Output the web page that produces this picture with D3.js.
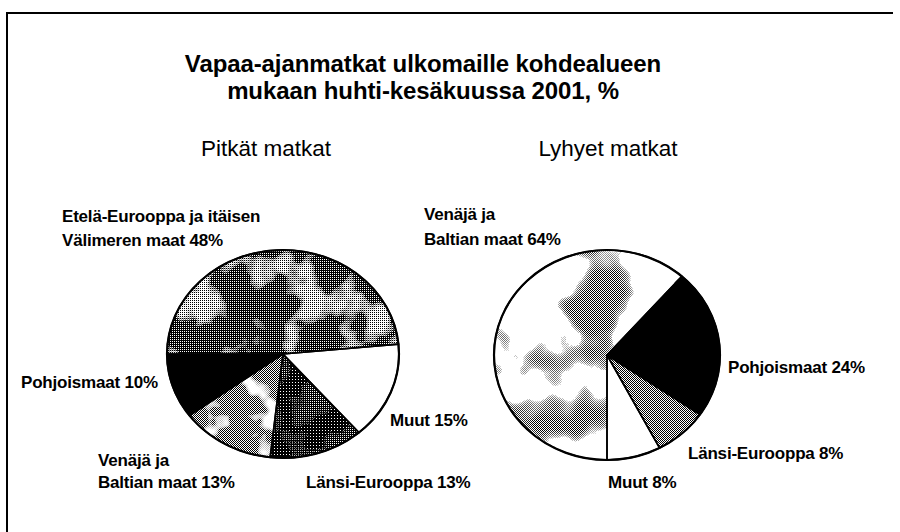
<!DOCTYPE html>
<html>
<head>
<meta charset="utf-8">
<script src="https://cdn.jsdelivr.net/npm/d3@7"></script>
<style>
  body { margin: 0; background: #fff; }
  svg { display: block; font-family: "Liberation Sans", Arial, sans-serif; }
</style>
</head>
<body>
<svg id="chart" width="900" height="532"></svg>
<script>
// --- data ---
const titleLines = ["Vapaa-ajanmatkat ulkomaille kohdealueen", "mukaan huhti-kesäkuussa 2001, %"];
const pieTitles = ["Pitkät matkat", "Lyhyet matkat"];

const longCategories = ["Etelä-Eurooppa ja itäisen Välimeren maat", "Muut", "Länsi-Eurooppa", "Venäjä ja Baltian maat", "Pohjoismaat"];
const longValues = [48, 15, 13, 13, 10];
const longLabelLines = [["Etelä-Eurooppa ja itäisen", "Välimeren maat"], ["Muut"], ["Länsi-Eurooppa"], ["Venäjä ja", "Baltian maat"], ["Pohjoismaat"]];

const shortCategories = ["Venäjä ja Baltian maat", "Pohjoismaat", "Länsi-Eurooppa", "Muut"];
const shortValues = [64, 24, 8, 8];
const shortLabelLines = [["Venäjä ja", "Baltian maat"], ["Pohjoismaat"], ["Länsi-Eurooppa"], ["Muut"]];

// --- layout ---
const svg = d3.select("#chart");
const pies = [
    { cx: 283, cy: 354, rx: 116, ry: 104, start: -Math.PI / 2, cats: longCategories, vals: longValues, lines: longLabelLines,
      labels: [[62, 222, 24], [390, 426, 0], [306, 488, 0], [98, 466, 22], [21, 388, 0]], titleX: 266 },
    { cx: 607, cy: 355, rx: 113, ry: 105, start: Math.PI, cats: shortCategories, vals: shortValues, lines: shortLabelLines,
      labels: [[424, 220, 25], [728, 373, 0], [688, 459, 0], [608, 488, 0]], titleX: 608 }
];

// halftone-ish textures
const defs = svg.append("defs");
function checker(id, cells) {
    const p = defs.append("pattern").attr("id", id)
        .attr("patternUnits", "userSpaceOnUse").attr("width", 2).attr("height", 2);
    p.append("rect").attr("width", 2).attr("height", 2).attr("fill", "#fff");
    cells.forEach(c => p.append("rect").attr("x", c[0]).attr("y", c[1]).attr("width", 1).attr("height", 1).attr("fill", "#000"));
}
checker("d25", [[0, 0]]);
checker("d50", [[0, 0], [1, 1]]);
checker("d75", [[0, 0], [1, 1], [1, 0]]);
const speck = defs.append("pattern").attr("id", "speck")
    .attr("patternUnits", "userSpaceOnUse").attr("width", 3).attr("height", 3);
speck.append("rect").attr("width", 3).attr("height", 3).attr("fill", "#000");
speck.append("rect").attr("x", 1).attr("y", 1).attr("width", 1).attr("height", 1).attr("fill", "#fff");

function blotchMask(id, seed, freq, cut) {
    const f = defs.append("filter").attr("id", id + "f")
        .attr("filterUnits", "userSpaceOnUse").attr("x", 0).attr("y", 0).attr("width", 900).attr("height", 532);
    f.append("feTurbulence").attr("type", "fractalNoise").attr("baseFrequency", freq)
        .attr("numOctaves", 3).attr("seed", seed);
    const k = 7, b = -k * cut;
    f.append("feColorMatrix").attr("type", "matrix")
        .attr("values", `${k} 0 0 0 ${b}  ${k} 0 0 0 ${b}  ${k} 0 0 0 ${b}  0 0 0 0 1`);
    defs.append("mask").attr("id", id)
        .attr("maskUnits", "userSpaceOnUse").attr("x", 0).attr("y", 0).attr("width", 900).attr("height", 532)
        .append("rect").attr("width", 900).attr("height", 532).attr("filter", `url(#${id}f)`);
}
blotchMask("mA", 4, 0.028, 0.52);
blotchMask("mB", 9, 0.03, 0.47);
blotchMask("mD", 6, 0.035, 0.55);
blotchMask("mC", 2, 0.016, 0.5);

// fill style per slice: [base, blotch fill, mask]
const styles = [
    [["d75", "d25", "mA"], ["#fff"], ["speck", "d75", "mB"], ["d50", "#fff", "mD"], ["#000"]],
    [["#fff", "d50", "mC"], ["#000"], ["d50"], ["#fff"]]
];
const paint = v => v.startsWith("#") ? v : `url(#${v})`;

// frame (only top and left edges show in the scan)
svg.append("path").attr("d", "M7,532V13H893").attr("fill", "none").attr("stroke", "#000").attr("stroke-width", 2);

// title
svg.append("g").selectAll("text").data(titleLines).join("text")
    .attr("x", 423).attr("y", (d, i) => 72 + i * 27)
    .attr("text-anchor", "middle").attr("font-size", 24).attr("font-weight", "bold")
    .attr("letter-spacing", -0.1).text(d => d);

function ellipsePath(p, a0, a1) {
    const px = a => p.cx + p.rx * Math.sin(a), py = a => p.cy - p.ry * Math.cos(a);
    const large = a1 - a0 > Math.PI ? 1 : 0;
    return `M${p.cx},${p.cy}L${px(a0)},${py(a0)}A${p.rx},${p.ry} 0 ${large} 1 ${px(a1)},${py(a1)}Z`;
}

pies.forEach((p, pi) => {
    const arcs = d3.pie().sort(null).startAngle(p.start).endAngle(p.start + 2 * Math.PI)(p.vals);
    const g = svg.append("g");

    svg.append("text").attr("x", p.titleX).attr("y", 156).attr("text-anchor", "middle")
        .attr("font-size", 22.5).text(pieTitles[pi]);

    g.selectAll("path.base").data(arcs).join("path").attr("class", "base")
        .attr("d", d => ellipsePath(p, d.startAngle, d.endAngle))
        .attr("fill", (d, i) => paint(styles[pi][i][0]));

    g.selectAll("path.blotch").data(arcs.filter((d, i) => styles[pi][i].length > 1)).join("path").attr("class", "blotch")
        .attr("d", d => ellipsePath(p, d.startAngle, d.endAngle))
        .attr("fill", d => paint(styles[pi][d.index][1]))
        .attr("mask", d => `url(#${styles[pi][d.index][2]})`);

    g.selectAll("path.edge").data(arcs).join("path").attr("class", "edge")
        .attr("d", d => ellipsePath(p, d.startAngle, d.endAngle))
        .attr("fill", "none").attr("stroke", "#000").attr("stroke-width", 1.6).attr("stroke-linejoin", "round");

    g.append("ellipse").attr("cx", p.cx).attr("cy", p.cy).attr("rx", p.rx).attr("ry", p.ry)
        .attr("fill", "none").attr("stroke", "#000").attr("stroke-width", 2.2);

    // labels
    const lab = svg.append("g").attr("font-size", 17).attr("font-weight", "bold").attr("letter-spacing", -0.2);
    p.cats.forEach((c, i) => {
        const [lx, ly, lh] = p.labels[i];
        const lines = p.lines[i].slice();
        lines[lines.length - 1] += " " + p.vals[i] + "%";
        lab.append("text").attr("x", lx).attr("y", ly)
            .selectAll("tspan").data(lines).join("tspan")
            .attr("x", lx).attr("dy", (d, j) => j === 0 ? 0 : lh)
            .text(d => d);
    });
});
</script>
</body>
</html>
